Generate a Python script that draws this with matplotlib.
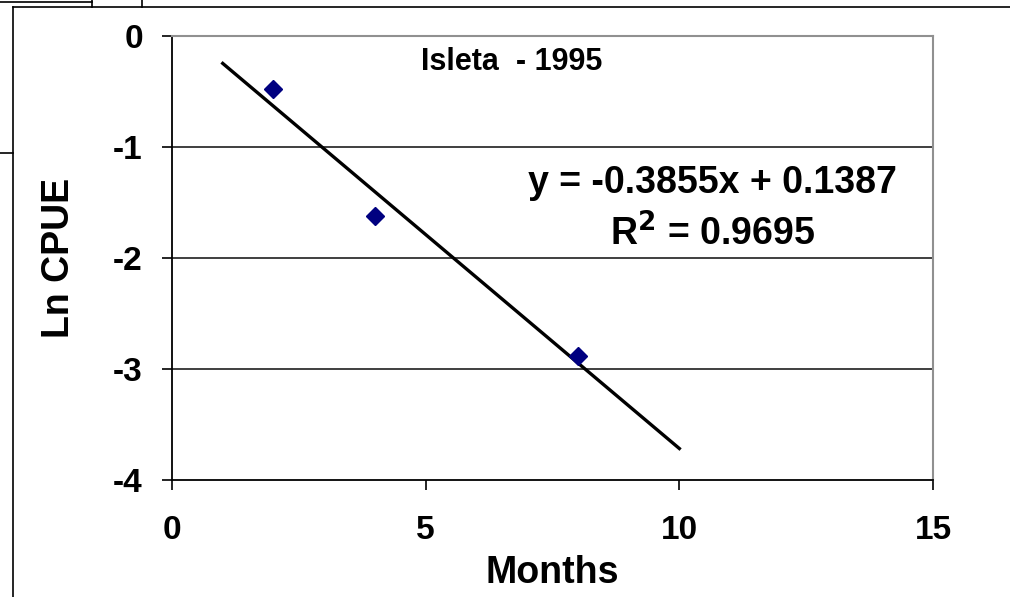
import numpy as np
import matplotlib
matplotlib.use('Agg')
from matplotlib import pyplot as plt
from matplotlib.lines import Line2D

plt.rcParams['font.family'] = ['Liberation Sans', 'DejaVu Sans']
plt.rcParams['axes.unicode_minus'] = False

months = [2, 4, 8]
ln_cpue = [-0.48, -1.62, -2.88]
slope, intercept = -0.3855, 0.1387
r2 = 0.9695
fit_x = [1, 10]
xticks = [0, 5, 10, 15]
yticks = [0, -1, -2, -3, -4]

fig = plt.figure(figsize=(10.10, 5.97), dpi=100)
ax = fig.add_axes([172/1010, 1-480/597, (933-172)/1010, (480-36)/597])

for y in yticks[1:-1]:
    ax.axhline(y, color='#303030', lw=1.3, zorder=1)

fx = np.array(fit_x)
ax.plot(fx, slope*fx + intercept, color='black', lw=2.4, zorder=2)
ax.plot(months, ln_cpue, 'D', color='#000080', ms=9.5, zorder=3)

ax.set_xlim(0, 15)
ax.set_ylim(-4, 0)
ax.set_xticks(xticks)
ax.set_yticks(yticks)
ax.tick_params(direction='out', length=7, width=1.2, color='black')
ax.tick_params(axis='x', pad=18)
ax.tick_params(axis='y', pad=14)
for lab in ax.get_xticklabels() + ax.get_yticklabels():
    lab.set_fontsize(24)
    lab.set_fontweight('bold')

ax.spines['left'].set_color('black')
ax.spines['bottom'].set_color('black')
ax.spines['left'].set_linewidth(1.3)
ax.spines['bottom'].set_linewidth(1.3)
ax.spines['top'].set_color('#909090')
ax.spines['right'].set_color('#909090')
ax.spines['top'].set_linewidth(1.5)
ax.spines['right'].set_linewidth(1.5)

ax.set_xlabel('Months', fontsize=27, fontweight='bold', labelpad=7)
ax.set_ylabel('Ln CPUE', fontsize=27, fontweight='bold', labelpad=26)

ax.text(6.7, -0.23, 'Isleta  - 1995', fontsize=22, fontweight='bold',
        ha='center', va='center')
ax.text(10.66, -1.32, 'y = %.4fx + %.4f' % (slope, intercept), fontsize=27,
        fontweight='bold', ha='center', va='center')
ax.text(10.66, -1.78, r'R$^{\mathbf{2}}$ = %.4f' % r2, fontsize=27,
        fontweight='bold', ha='center', va='center')

# surrounding sheet / chart-area borders
def fig_line(xs, ys, **kw):
    fig.add_artist(Line2D([x/1010 for x in xs], [1 - y/597 for y in ys],
                          transform=fig.transFigure, color='black', lw=1.2, **kw))

fig_line([13, 1010], [7, 7])
fig_line([13, 13], [7, 597])
fig_line([0, 92], [2, 2])
fig_line([92, 92], [0, 7])
fig_line([142, 142], [0, 7])
fig_line([0, 13], [153, 153])

fig.savefig('out.png', dpi=100)
